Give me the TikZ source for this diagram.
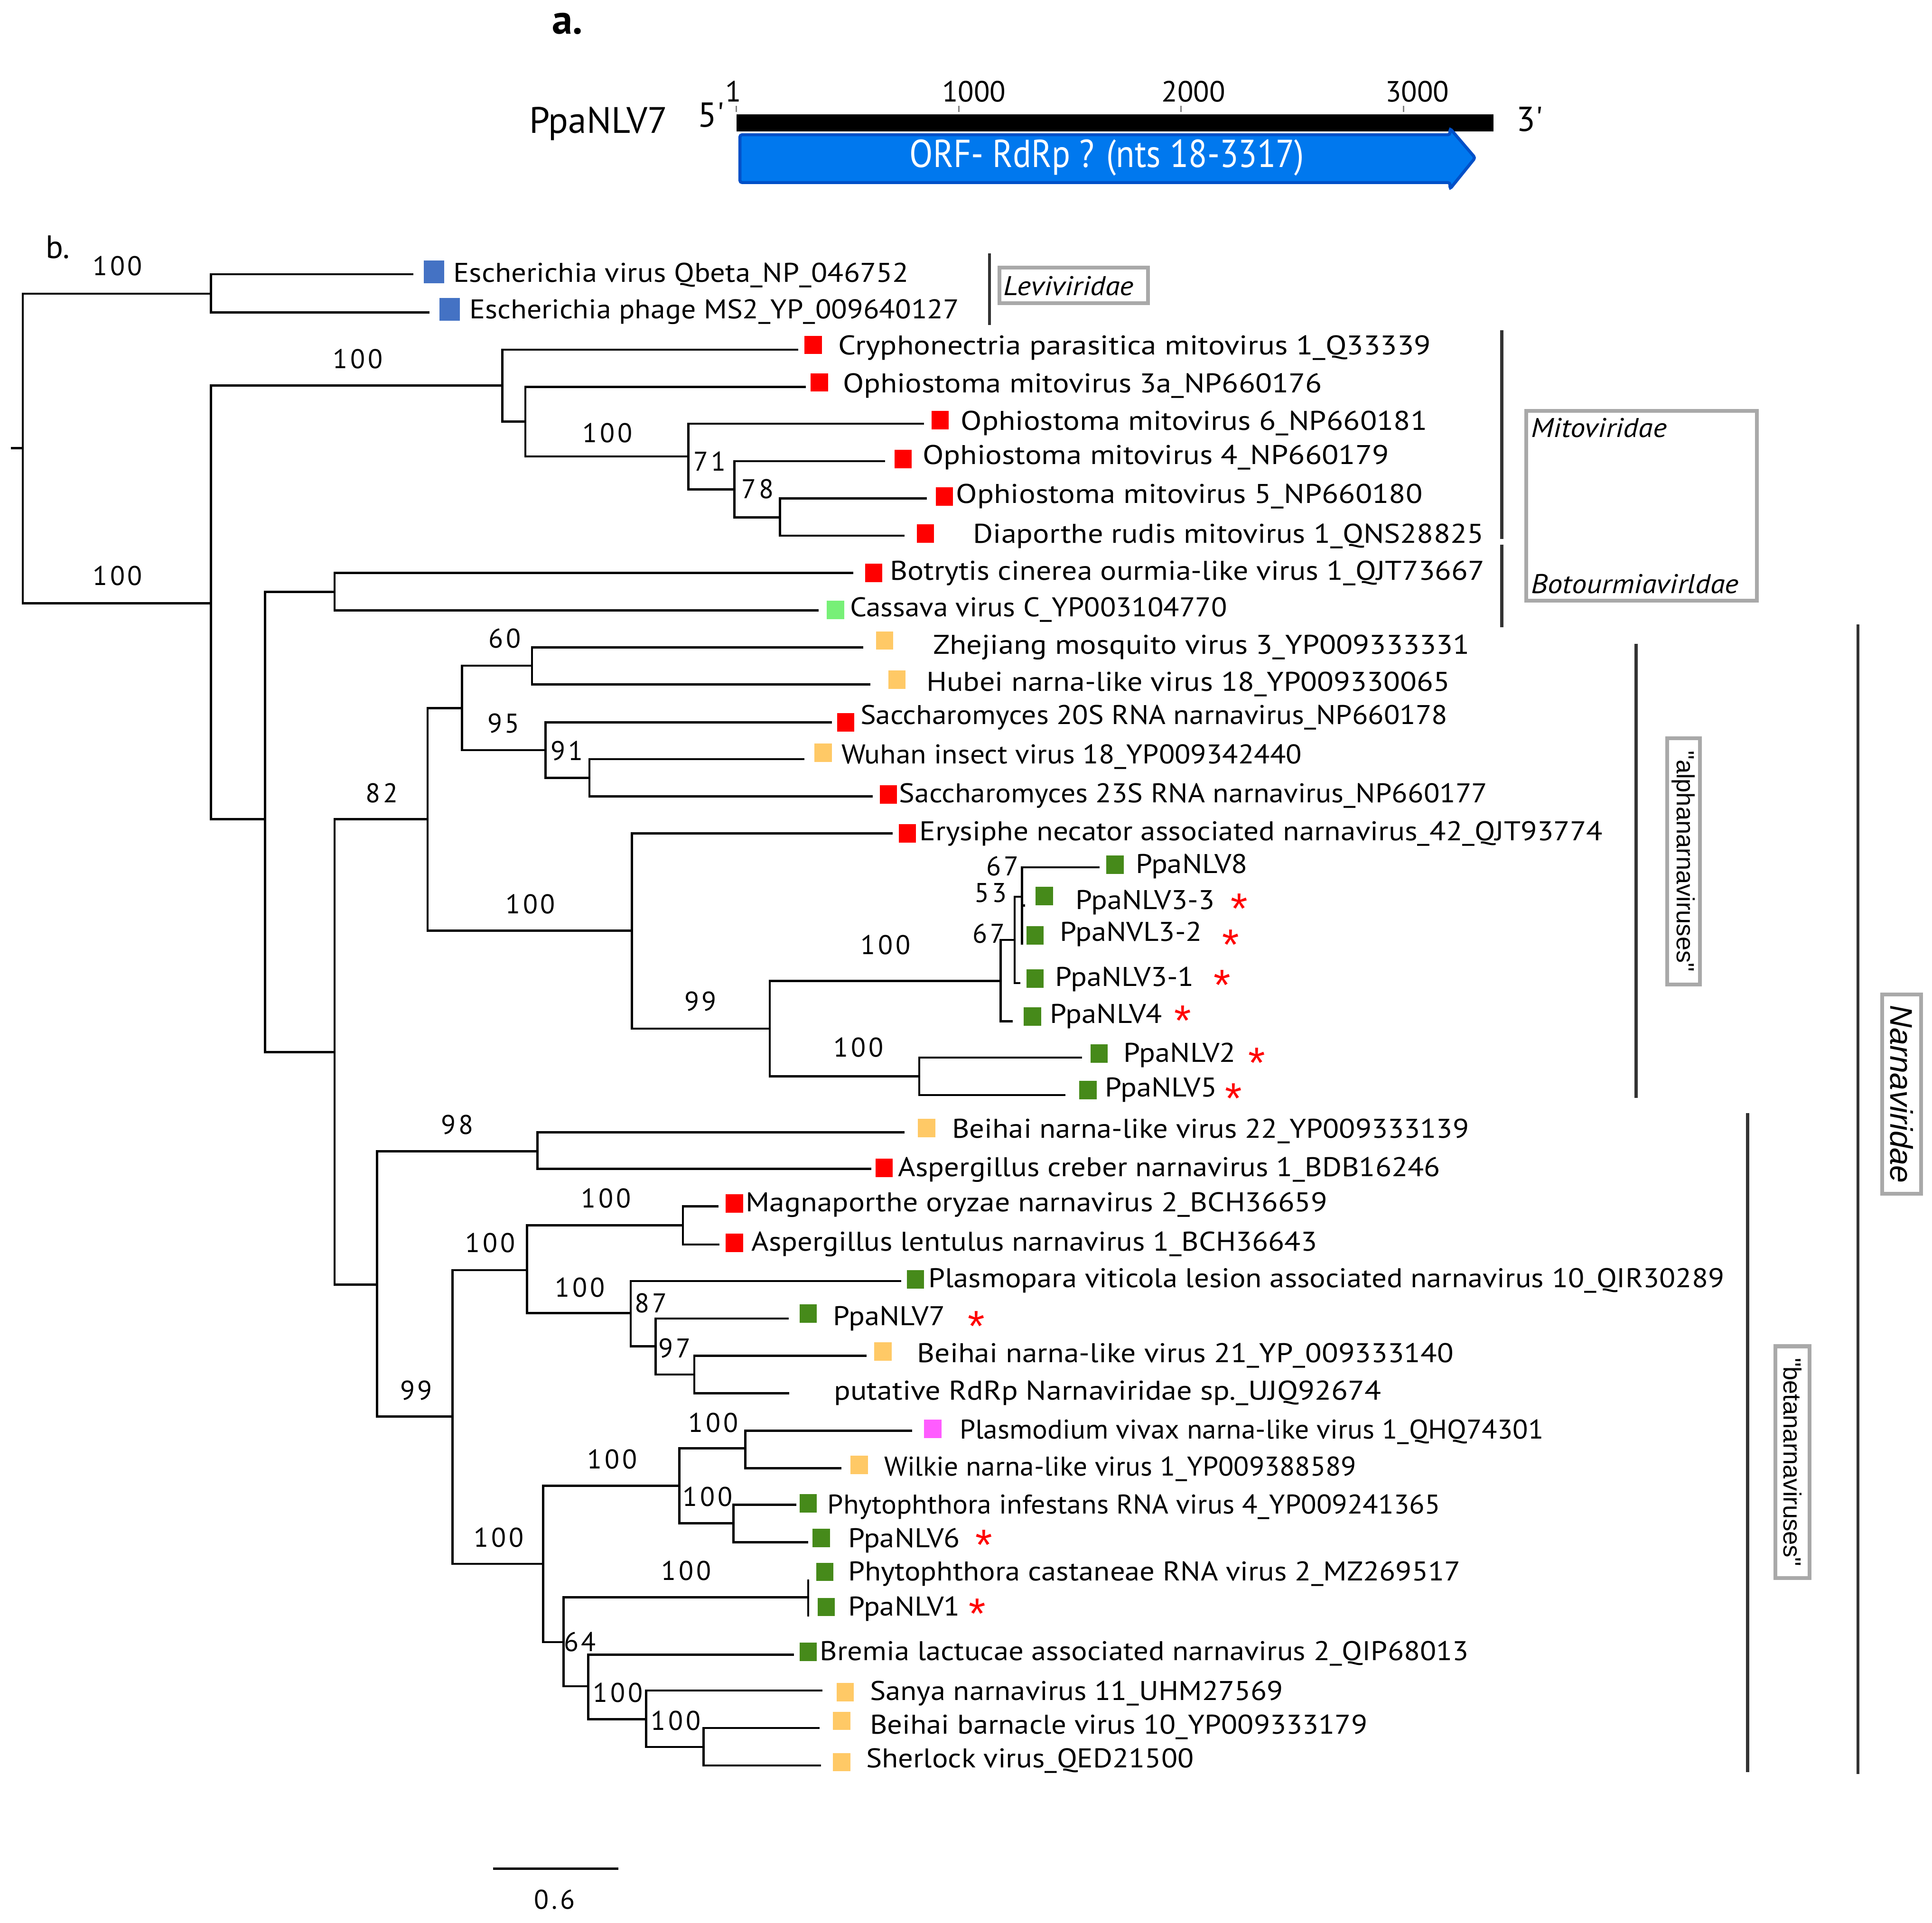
\documentclass[tikz,border=0pt]{standalone}
\usepackage{fontspec}
\usepackage{graphicx}
\setmainfont{PT Sans}
\newfontfamily\taxfont[FakeStretch=1.1]{PT Sans}
\newfontfamily\orffont[FakeStretch=0.88]{PT Sans}
\newfontfamily\bootfont[LetterSpace=10]{PT Sans}
\newfontfamily\cladefont{Liberation Sans}
\usetikzlibrary{positioning}

\newcommand{\fitw}[2]{\scalebox{#1}[1]{#2}}

\definecolor{levblue}{HTML}{4472C4}
\definecolor{fungred}{HTML}{FF0000}
\definecolor{plantgreen}{HTML}{77F077}
\definecolor{arthyellow}{HTML}{FFC966}
\definecolor{oomgreen}{HTML}{468A1A}
\definecolor{protpink}{HTML}{FF5CFF}
\definecolor{orffill}{HTML}{0078EE}
\definecolor{orfline}{HTML}{0050C8}
\definecolor{framegray}{HTML}{A9A9A9}
\definecolor{cladegray}{HTML}{333333}

\tikzset{
  branch/.style={line width=1pt},
  taxon/.style={anchor=base west, inner sep=0pt, font=\taxfont\fontsize{12.5}{14}\selectfont},
  boot/.style={inner sep=0pt, font=\bootfont\fontsize{12.5}{14}\selectfont},
  tipbox/.style={minimum width=8pt, minimum height=8.5pt, inner sep=0pt},
  bigbox/.style={minimum width=9.5pt, minimum height=10.5pt, inner sep=0pt, fill=levblue},
  ast/.style={anchor=north, inner sep=0pt, text=red, text height=14.3pt, text depth=-8.6pt,
    font=\cladefont\fontsize{20}{22}\selectfont},
  cladebar/.style={line width=1.4pt, draw=cladegray},
  famframe/.style={draw=framegray, line width=1.8pt, inner sep=0pt},
  famname/.style={anchor=west, inner sep=0pt, font=\taxfont\itshape\fontsize{12.5}{14}\selectfont},
  rotname/.style={famframe, rotate=-90, font=\cladefont\fontsize{11.5}{13}\selectfont},
}

\begin{document}
\begin{tikzpicture}[x=0.02cm,y=-0.02cm]
\useasboundingbox (0,0) rectangle (1568,1561);

% a. genome map of PpaNLV7
\node[anchor=base west, inner sep=0pt, font=\bfseries\fontsize{19}{22}\selectfont] (panA) at (447.8,27.4) {a.};
\node[anchor=base east, inner sep=0pt, font=\fontsize{17}{20}\selectfont] (gname) at (542.2,108.1) {PpaNLV7};
\node[anchor=base west, inner sep=0pt, font=\fontsize{16}{19}\selectfont] (five) at (566,103) {5\textquotesingle};
\node[anchor=base west, inner sep=0pt, font=\fontsize{16}{19}\selectfont] (three) at (1230.6,106.6) {3\textquotesingle};
\fill (597.7,92.8) rectangle (1212.2,106.8);
\foreach \x in {597.7,778.2,958.6,1139}
  \draw[gray, line width=0.6pt] (\x,86) -- (\x,91);
\node[anchor=base, inner sep=0pt, font=\fontsize{13.5}{16}\selectfont] (t1) at (595,82.8) {1};
\node[anchor=base, inner sep=0pt, font=\fontsize{13.5}{16}\selectfont] (t1000) at (790.4,82.8) {1000};
\node[anchor=base, inner sep=0pt, font=\fontsize{13.5}{16}\selectfont] (t2000) at (968.6,82.8) {2000};
\node[anchor=base, inner sep=0pt, font=\fontsize{13.5}{16}\selectfont] (t3000) at (1150.2,82.8) {3000};
% ORF arrow
\draw[fill=orffill, draw=orfline, line width=1.4pt, rounded corners=1pt]
  (600.5,109.4) -- (1176.8,109.4) -- (1176.8,104.2) -- (1197.2,128.1)
  -- (1176.8,153.4) -- (1176.8,148.2) -- (600.5,148.2) -- cycle;
\node[text=white, inner sep=0pt, anchor=base, font=\orffont\fontsize{18}{20}\selectfont] (orf) at (898.4,135.9) {ORF- RdRp ? (nts 18-3317)};

% b. tree
\node[anchor=base west, inner sep=0pt, font=\fontsize{15}{18}\selectfont] (panB) at (36.7,209.9) {b.};

% internal nodes
\coordinate (stub) at (8.8,363.7);
\coordinate (root) at (18.5,363.7);
\coordinate (nLev) at (171.1,238.4);
\coordinate (nB) at (171.1,489.8);
\coordinate (nMito) at (407.6,313);
\coordinate (n3a) at (426.4,342.3);
\coordinate (n6) at (558.7,370.5);
\coordinate (n71) at (596,397.3);
\coordinate (n78) at (633,420.1);
\coordinate (nC) at (215.1,665);
\coordinate (nBot) at (271.5,480.4);
\coordinate (nNarna) at (271.5,854);
\coordinate (nAlpha) at (347,665);
\coordinate (nAlpha1) at (374.9,574.8);
\coordinate (n60) at (431.7,540.4);
\coordinate (n95) at (442.8,608.9);
\coordinate (n91) at (478.4,631.4);
\coordinate (nAlpha2) at (512.9,755.5);
\coordinate (n99a) at (624.8,835);
\coordinate (nPpa) at (812,796.4);
\coordinate (n53) at (823.5,763);
\coordinate (n67) at (829.5,728);
\coordinate (nPpa25) at (746,873.8);
\coordinate (nBeta) at (306,1042.8);
\coordinate (n98) at (436.2,934.5);
\coordinate (nBeta1) at (367.3,1150);
\coordinate (nBeta2) at (427.8,1031);
\coordinate (nAsp) at (554.3,994.6);
\coordinate (nPlv) at (511.8,1066);
\coordinate (n87) at (532.1,1092.9);
\coordinate (n97) at (563.5,1115.8);
\coordinate (nBeta3) at (440.9,1269.5);
\coordinate (nPvx) at (551.3,1206.2);
\coordinate (nPvx1) at (604.9,1175.8);
\coordinate (nPin) at (595.3,1236.5);
\coordinate (nLow) at (457.3,1333);
\coordinate (nPca) at (655.9,1296.6);
\coordinate (n64) at (477.3,1368.8);
\coordinate (nSan) at (524.4,1395.6);
\coordinate (nBar) at (571.1,1418.1);

% tips
\coordinate (tQb) at (335.5,222.6);
\coordinate (tMs2) at (348.4,253.6);
\coordinate (tCpm) at (647.8,283.8);
\coordinate (tOm3) at (654,314);
\coordinate (tOm6) at (749.8,344);
\coordinate (tOm4) at (718.2,374.3);
\coordinate (tOm5) at (752.2,404.7);
\coordinate (tDrm) at (734,434.9);
\coordinate (tBcv) at (692.4,465.1);
\coordinate (tCvc) at (664.5,495.5);
\coordinate (tZmv) at (700.7,525.5);
\coordinate (tHnv) at (706.5,555.7);
\coordinate (tS20) at (675,586.4);
\coordinate (tWiv) at (652.8,616.3);
\coordinate (tS23) at (708.4,646.4);
\coordinate (tEna) at (724.5,676.5);
\coordinate (tN8) at (892.5,704);
\coordinate (tN33) at (832,735);
\coordinate (tN32) at (829.5,767);
\coordinate (tN31) at (828,798);
\coordinate (tN4) at (822,829);
\coordinate (tN2) at (878,858.5);
\coordinate (tN5) at (864.5,889);
\coordinate (tB22) at (734,919.1);
\coordinate (tAcn) at (707.3,948.8);
\coordinate (tMon) at (583,979.2);
\coordinate (tAln) at (583.8,1010.3);
\coordinate (tPvl) at (731.4,1040);
\coordinate (tN7) at (640.1,1070.3);
\coordinate (tB21) at (703.4,1100.7);
\coordinate (tRdrp) at (640.5,1131.1);
\coordinate (tPvn) at (740.2,1161.5);
\coordinate (tWnv) at (682.7,1191.9);
\coordinate (tPiv) at (646.3,1221.6);
\coordinate (tN6) at (655.9,1252);
\coordinate (tPcv) at (655.9,1282.3);
\coordinate (tN1) at (655.9,1312.3);
\coordinate (tBla) at (644.4,1343.2);
\coordinate (tSnv) at (667.3,1372.4);
\coordinate (tBbv) at (665.1,1402.8);
\coordinate (tShv) at (666.2,1433.2);

% branches
\draw[branch] (stub) -- (root) (root) |- (nLev) (root) |- (nB)
  (nLev) |- (tQb) (nLev) |- (tMs2);
% Mitoviridae and Botourmiaviridae
\draw[branch] (nB) |- (nMito) (nB) |- (nC)
  (nMito) |- (tCpm) (nMito) |- (n3a)
  (n3a) |- (tOm3) (n3a) |- (n6)
  (n6) |- (tOm6) (n6) |- (n71)
  (n71) |- (tOm4) (n71) |- (n78)
  (n78) |- (tOm5) (n78) |- (tDrm)
  (nC) |- (nBot) (nC) |- (nNarna)
  (nBot) |- (tBcv) (nBot) |- (tCvc);
% alphanarnaviruses
\draw[branch] (nNarna) |- (nAlpha) (nNarna) |- (nBeta)
  (nAlpha) |- (nAlpha1) (nAlpha) |- (nAlpha2)
  (nAlpha1) |- (n60) (nAlpha1) |- (n95)
  (n60) |- (tZmv) (n60) |- (tHnv)
  (n95) |- (tS20) (n95) |- (n91)
  (n91) |- (tWiv) (n91) |- (tS23)
  (nAlpha2) |- (tEna) (nAlpha2) |- (n99a)
  (n99a) |- (nPpa) (n99a) |- (nPpa25)
  (nPpa) |- (n53) (nPpa) |- (tN4)
  (n53) |- (n67) (n53) |- (tN31)
  (n67) |- (tN8) (n67) |- (tN33) (n67) |- (tN32)
  (nPpa25) |- (tN2) (nPpa25) |- (tN5);
% betanarnaviruses
\draw[branch] (nBeta) |- (n98) (nBeta) |- (nBeta1)
  (n98) |- (tB22) (n98) |- (tAcn)
  (nBeta1) |- (nBeta2) (nBeta1) |- (nBeta3)
  (nBeta2) |- (nAsp) (nBeta2) |- (nPlv)
  (nAsp) |- (tMon) (nAsp) |- (tAln)
  (nPlv) |- (tPvl) (nPlv) |- (n87)
  (n87) |- (tN7) (n87) |- (n97)
  (n97) |- (tB21) (n97) |- (tRdrp)
  (nBeta3) |- (nPvx) (nBeta3) |- (nLow)
  (nPvx) |- (nPvx1) (nPvx) |- (nPin)
  (nPvx1) |- (tPvn) (nPvx1) |- (tWnv)
  (nPin) |- (tPiv) (nPin) |- (tN6)
  (nLow) |- (nPca) (nLow) |- (n64)
  (nPca) |- (tPcv) (nPca) |- (tN1)
  (n64) |- (tBla) (n64) |- (nSan)
  (nSan) |- (tSnv) (nSan) |- (nBar)
  (nBar) |- (tBbv) (nBar) |- (tShv);

% bootstrap values
\node[boot] (v1) at (95.4,216) {100};
\node[boot] (v2) at (290.5,291.2) {100};
\node[boot] (v3) at (95.4,467.6) {100};
\node[boot] (v4) at (493,351.4) {100};
\node[boot] (v5) at (575.9,374.3) {71};
\node[boot] (v6) at (614.8,396.8) {78};
\node[boot] (v7) at (409.5,518.2) {60};
\node[boot] (v8) at (408.7,587.1) {95};
\node[boot] (v9) at (460,609.4) {91};
\node[boot] (v10) at (309.8,643.8) {82};
\node[boot] (v11) at (430.5,733.8) {100};
\node[boot] (v12) at (568.5,813) {99};
\node[boot] (v13) at (718.7,767) {100};
\node[boot] (v14) at (813.6,703) {67};
\node[boot] (v15) at (804,725) {53};
\node[boot] (v16) at (802.4,758) {67};
\node[boot] (v17) at (696.8,850.3) {100};
\node[boot] (v18) at (371.1,913.1) {98};
\node[boot] (v19) at (491.8,972.8) {100};
\node[boot] (v20) at (397.9,1008.8) {100};
\node[boot] (v21) at (470.7,1045.3) {100};
\node[boot] (v22) at (528.2,1057.8) {87};
\node[boot] (v23) at (547.4,1094.3) {97};
\node[boot] (v24) at (337.8,1128.6) {99};
\node[boot] (v25) at (578.8,1155) {100};
\node[boot] (v26) at (496.8,1184.7) {100};
\node[boot] (v27) at (574.2,1215.1) {100};
\node[boot] (v28) at (404.9,1248.3) {100};
\node[boot] (v29) at (557,1275.2) {100};
\node[boot] (v30) at (470.7,1333) {64};
\node[boot] (v31) at (501.4,1374.2) {100};
\node[boot] (v32) at (548.5,1396.7) {100};

% host squares
\node[bigbox] (bQb) at (352.2,220.8) {};
\node[bigbox] (bMs2) at (365,251) {};
\node[tipbox, fill=fungred] (bCpm) at (660,280) {};
\node[tipbox, fill=fungred] (bOm3) at (665,310.4) {};
\node[tipbox, fill=fungred] (bOm6) at (763,341) {};
\node[tipbox, fill=fungred] (bOm4) at (733,372.6) {};
\node[tipbox, fill=fungred] (bOm5) at (766.4,403) {};
\node[tipbox, fill=fungred] (bDrm) at (751,433.2) {};
\node[tipbox, fill=fungred] (bBcv) at (709,465) {};
\node[tipbox, fill=plantgreen] (bCvc) at (678,495) {};
\node[tipbox, fill=arthyellow] (bZmv) at (718,520) {};
\node[tipbox, fill=arthyellow] (bHnv) at (728,551.6) {};
\node[tipbox, fill=fungred] (bS20) at (686.3,586.4) {};
\node[tipbox, fill=arthyellow] (bWiv) at (668,611) {};
\node[tipbox, fill=fungred] (bS23) at (721,645) {};
\node[tipbox, fill=fungred] (bEna) at (736.5,676.5) {};
\node[tipbox, fill=oomgreen] (bN8) at (905,702) {};
\node[tipbox, fill=oomgreen] (bN33) at (847.5,727.5) {};
\node[tipbox, fill=oomgreen] (bN32) at (840,759.4) {};
\node[tipbox, fill=oomgreen] (bN31) at (840,794.5) {};
\node[tipbox, fill=oomgreen] (bN4) at (838,825.3) {};
\node[tipbox, fill=oomgreen] (bN2) at (892,855.2) {};
\node[tipbox, fill=oomgreen] (bN5) at (883,885) {};
\node[tipbox, fill=arthyellow] (bB22) at (752,915.7) {};
\node[tipbox, fill=fungred] (bAcn) at (717.5,948) {};
\node[tipbox, fill=fungred] (bMon) at (596,977) {};
\node[tipbox, fill=fungred] (bAln) at (596,1009) {};
\node[tipbox, fill=oomgreen] (bPvl) at (743,1038.7) {};
\node[tipbox, fill=oomgreen] (bN7) at (656,1066.3) {};
\node[tipbox, fill=arthyellow] (bB21) at (716.6,1097) {};
\node[tipbox, fill=protpink] (bPvn) at (757,1160) {};
\node[tipbox, fill=arthyellow] (bWnv) at (697.4,1189.3) {};
\node[tipbox, fill=oomgreen] (bPiv) at (656,1220.5) {};
\node[tipbox, fill=oomgreen] (bN6) at (666.6,1248.5) {};
\node[tipbox, fill=oomgreen] (bPcv) at (669.5,1276) {};
\node[tipbox, fill=oomgreen] (bN1) at (670.6,1304.5) {};
\node[tipbox, fill=oomgreen] (bBla) at (656,1341) {};
\node[tipbox, fill=arthyellow] (bSnv) at (686,1373.8) {};
\node[tipbox, fill=arthyellow] (bBbv) at (683,1397) {};
\node[tipbox, fill=arthyellow] (bShv) at (683,1430.5) {};

% taxon names
\node[taxon] (lQb) at (367.5,229) {Escherichia virus Qbeta\_NP\_046752};
\node[taxon] (lMs2) at (380.7,258.5) {\fitw{0.985}{Escherichia phage MS2\_YP\_009640127}};
\node[taxon] (lCpm) at (680,288) {\fitw{1.038}{Cryphonectria parasitica mitovirus 1\_Q33339}};
\node[taxon] (lOm3) at (683.7,318.7) {\fitw{1.03}{Ophiostoma mitovirus 3a\_NP660176}};
\node[taxon] (lOm6) at (779.5,349) {\fitw{1.035}{Ophiostoma mitovirus 6\_NP660181}};
\node[taxon] (lOm4) at (748.5,377) {\fitw{1.035}{Ophiostoma mitovirus 4\_NP660179}};
\node[taxon] (lOm5) at (775.7,408.5) {\fitw{1.035}{Ophiostoma mitovirus 5\_NP660180}};
\node[taxon] (lDrm) at (789.5,441) {\fitw{1.026}{Diaporthe rudis mitovirus 1\_QNS28825}};
\node[taxon] (lBcv) at (722,471) {\fitw{1.018}{Botrytis cinerea ourmia-like virus 1\_QJT73667}};
\node[taxon] (lCvc) at (689.5,500.5) {\fitw{0.978}{Cassava virus C\_YP003104770}};
\node[taxon] (lZmv) at (757,531) {\fitw{1.029}{Zhejiang mosquito virus 3\_YP009333331}};
\node[taxon] (lHnv) at (751.6,561) {\fitw{1.021}{Hubei narna-like virus 18\_YP009330065}};
\node[taxon] (lS20) at (698,588) {\fitw{0.981}{Saccharomyces 20S RNA narnavirus\_NP660178}};
\node[taxon] (lWiv) at (682.6,620) {\fitw{0.978}{Wuhan insect virus 18\_YP009342440}};
\node[taxon] (lS23) at (729.4,651.5) {\fitw{0.983}{Saccharomyces 23S RNA narnavirus\_NP660177}};
\node[taxon] (lEna) at (746,682.5) {\fitw{1.01}{Erysiphe necator associated narnavirus\_42\_QJT93774}};
\node[taxon] (lN8) at (921.4,709) {PpaNLV8};
\node[taxon] (lN33) at (872.7,738) {PpaNLV3-3};
\node[taxon] (lN32) at (860,764) {PpaNVL3-2};
\node[taxon] (lN31) at (856,800.6) {PpaNLV3-1};
\node[taxon] (lN4) at (852,830.6) {PpaNLV4};
\node[taxon] (lN2) at (911.7,862.3) {PpaNLV2};
\node[taxon] (lN5) at (896.6,890.4) {PpaNLV5};
\node[taxon] (lB22) at (772.4,923.8) {Beihai narna-like virus 22\_YP009333139};
\node[taxon] (lAcn) at (728.7,954.9) {Aspergillus creber narnavirus 1\_BDB16246};
\node[taxon] (lMon) at (604.9,983.5) {\fitw{1.014}{Magnaporthe oryzae narnavirus 2\_BCH36659}};
\node[taxon] (lAln) at (609.5,1015.6) {Aspergillus lentulus narnavirus 1\_BCH36643};
\node[taxon] (lPvl) at (753.2,1045.3) {Plasmopara viticola lesion associated narnavirus 10\_QIR30289};
\node[taxon] (lN7) at (675.8,1076) {PpaNLV7};
\node[taxon] (lB21) at (744,1106) {\fitw{1.014}{Beihai narna-like virus 21\_YP\_009333140}};
\node[taxon] (lRdrp) at (676.5,1136.5) {\fitw{1.025}{putative RdRp Narnaviridae sp.\_UJQ92674}};
\node[taxon] (lPvn) at (778.5,1168) {\fitw{0.949}{Plasmodium vivax narna-like virus 1\_QHQ74301}};
\node[taxon] (lWnv) at (717.2,1198) {\fitw{0.945}{Wilkie narna-like virus 1\_YP009388589}};
\node[taxon] (lPiv) at (671.2,1228.7) {\fitw{0.954}{Phytophthora infestans RNA virus 4\_YP009241365}};
\node[taxon] (lN6) at (688,1256.2) {PpaNLV6};
\node[taxon] (lPcv) at (688,1283) {Phytophthora castaneae RNA virus 2\_MZ269517};
\node[taxon] (lN1) at (688,1311.6) {PpaNLV1};
\node[taxon] (lBla) at (665.1,1348) {Bremia lactucae associated narnavirus 2\_QIP68013};
\node[taxon] (lSnv) at (705.7,1380.2) {Sanya narnavirus 11\_UHM27569};
\node[taxon] (lBbv) at (705.7,1407.4) {Beihai barnacle virus 10\_YP009333179};
\node[taxon] (lShv) at (702.6,1435) {Sherlock virus\_QED21500};

% new viruses of this study
\node[ast] (a33) at (1005.6,724.4) {*};
\node[ast] (a32) at (998.8,753.6) {*};
\node[ast] (a31) at (992,786.2) {*};
\node[ast] (a4) at (960,815) {*};
\node[ast] (a2) at (1020,849.5) {*};
\node[ast] (a5) at (1001,878.4) {*};
\node[ast] (a7) at (792.3,1063.2) {*};
\node[ast] (a6) at (798.4,1240.8) {*};
\node[ast] (a1) at (793,1296.6) {*};

% clade bars
\coordinate (levTop) at (803,205.7);
\coordinate (levBot) at (803,263.7);
\coordinate (mitTop) at (1218.8,268);
\coordinate (mitBot) at (1218.8,437.5);
\coordinate (botTop) at (1218.8,442);
\coordinate (botBot) at (1218.8,509);
\coordinate (alpTop) at (1327.8,522.5);
\coordinate (alpBot) at (1327.8,891.2);
\coordinate (betTop) at (1418.4,903.4);
\coordinate (betBot) at (1418.4,1438.5);
\coordinate (narTop) at (1507.8,507);
\coordinate (narBot) at (1507.8,1440.3);
\draw[cladebar] (levTop) -- (levBot);
\draw[cladebar] (mitTop) -- (mitBot);
\draw[cladebar] (botTop) -- (botBot);
\draw[cladebar] (alpTop) -- (alpBot);
\draw[cladebar] (betTop) -- (betBot);
\draw[cladebar] (narTop) -- (narBot);

% family names
\node[famframe, minimum width=68.6pt, minimum height=16.4pt] (levbox) at (871.5,231.75) {};
\node[famname] (levlab) at (814,232) {Leviviridae};
\node[famframe, minimum width=106.6pt, minimum height=87.7pt] (mitobox) at (1332.2,410.6) {};
\node[famname] (mitolab) at (1242.4,347.2) {Mitoviridae};
\begin{scope}
  \clip (1238.5,440) rectangle (1424.5,486);
  \node[famname] (botlab) at (1242.4,474) {Botourmiavirldae};
\end{scope}
\node[rotname, minimum width=113.8pt, minimum height=15.1pt] (alpbox) at (1366.3,699.2) {"alphanarnaviruses"};
\node[rotname, minimum width=107.1pt, minimum height=15.7pt] (betbox) at (1454.8,1187) {"betanarnaviruses"};
\node[famframe, rotate=-90, minimum width=92pt, minimum height=18pt, font=\cladefont\itshape\fontsize{14.5}{16}\selectfont] (narbox) at (1543.2,888.2) {Narnaviridae};

% scale bar
\coordinate (sbL) at (400,1517);
\coordinate (sbR) at (502,1517);
\draw[branch, line width=1.2pt] (sbL) -- (sbR);
\node[boot] (sblab) at (450,1542) {0.6};
\end{tikzpicture}
\end{document}
